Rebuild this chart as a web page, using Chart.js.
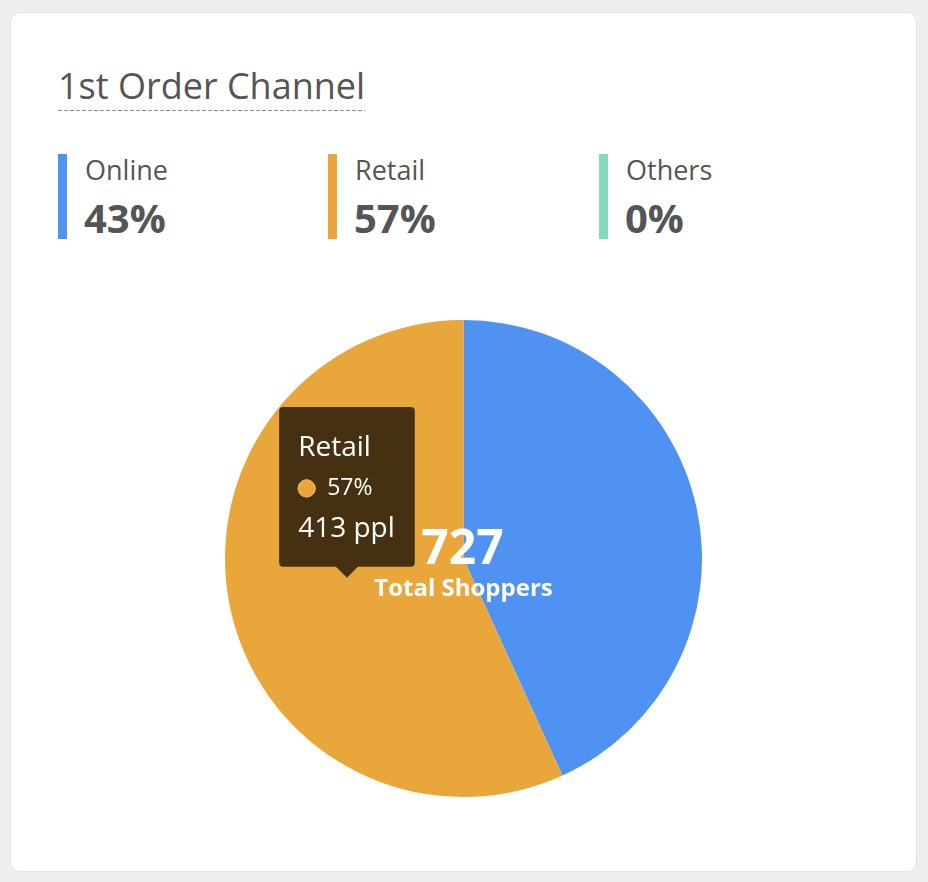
<!DOCTYPE html>
<html>
<head>
<meta charset="utf-8">
<script src="https://cdn.jsdelivr.net/npm/chart.js@4"></script>
<style>
  html, body { margin: 0; padding: 0; }
  body { width: 928px; height: 882px; background: #eeeff1; position: relative; overflow: hidden; font-family: 'Open Sans', sans-serif; color: #555; }
  .card { position: absolute; left: 10px; top: 12px; width: 905px; height: 858px; background: #fff; border: 1px solid #e2e3e5; border-radius: 10px; }
  .title { position: absolute; left: 58px; top: 61px; font-size: 36px; line-height: normal; white-space: nowrap; }
  .dash { position: absolute; left: 58px; top: 110px; width: 307px; height: 1px;
          background-image: linear-gradient(to right, #8c8c8c 0 4px, transparent 4px 6px); background-size: 6px 1px; }
  .item { position: absolute; top: 154px; height: 85px; }
  .item .bar { position: absolute; left: 0; top: 0; width: 9px; height: 85px; }
  .item .name { position: absolute; left: 27px; top: -3px; font-size: 27px; line-height: normal; white-space: nowrap; }
  .item .pct { position: absolute; left: 26px; top: 36px; font-size: 40px; font-weight: bold; line-height: normal; white-space: nowrap; }
  #wrap { position: absolute; left: 225px; top: 320px; width: 477px; height: 477px; }
</style>
</head>
<body>
<div class="card"></div>
<div class="title">1st Order Channel</div>
<div class="dash"></div>
<div id="legend"></div>
<div id="wrap"><canvas id="myChart"></canvas></div>
<script>
// les données du graph
const channels = ['Online', 'Retail', 'Others'];
const shoppers = [314, 413, 0];
const colors = ['#5092f2', '#e8a63b', '#84d9bf'];
const legendLeft = [58, 328, 599];
const activeIndex = 1; // le segment survolé (Retail)

const total = shoppers.reduce((a, b) => a + b, 0);
const pct = (v) => Math.round(v / total * 100);

// légende en html
const legend = document.getElementById('legend');
channels.forEach((c, i) => {
    const el = document.createElement('div');
    el.className = 'item';
    el.style.left = legendLeft[i] + 'px';
    el.innerHTML = '<div class="bar" style="background:' + colors[i] + '"></div>'
        + '<div class="name">' + c + '</div>'
        + '<div class="pct">' + pct(shoppers[i]) + '%</div>';
    legend.appendChild(el);
});

// texte au centre
const centerText = {
    id: 'centerText',
    afterDatasetsDraw(chart) {
        const arc = chart.getDatasetMeta(0).data[0];
        const ctx = chart.ctx;
        ctx.save();
        ctx.fillStyle = '#ffffff';
        ctx.textAlign = 'center';
        ctx.textBaseline = 'alphabetic';
        ctx.font = 'bold 48px "Open Sans"';
        ctx.fillText(String(total), arc.x - 1, arc.y + 5);
        ctx.font = 'bold 24px "Open Sans"';
        ctx.fillText('Total Shoppers', arc.x, arc.y + 37);
        ctx.restore();
    }
};

const chart = new Chart(
    document.getElementById('myChart'),
    {
        type: 'pie',
        data: {
            labels: channels,
            datasets: [
                {
                    data: shoppers,
                    backgroundColor: colors,
                    hoverBackgroundColor: colors,
                    borderWidth: 0,
                    hoverBorderWidth: 0,
                    hoverOffset: 0
                }
            ]
        },
        options: {
            animation: false,
            responsive: true,
            maintainAspectRatio: false,
            events: [],
            layout: { padding: 0 },
            plugins: {
                legend: { display: false },
                tooltip: {
                    enabled: true,
                    backgroundColor: 'rgba(0,0,0,0.7)',
                    xAlign: 'center',
                    yAlign: 'bottom',
                    caretSize: 11,
                    caretPadding: 6,
                    cornerRadius: 4,
                    padding: { top: 24, bottom: 21, left: 19, right: 20 },
                    titleFont: { family: 'Open Sans', size: 28, weight: 'normal' },
                    bodyFont: { family: 'Open Sans', size: 23, weight: 'normal' },
                    footerFont: { family: 'Open Sans', size: 28, weight: 'normal' },
                    titleColor: '#fff',
                    bodyColor: '#fff',
                    footerColor: '#fff',
                    titleMarginBottom: 10,
                    footerMarginTop: 10,
                    displayColors: true,
                    usePointStyle: true,
                    boxWidth: 17,
                    boxHeight: 17,
                    boxPadding: 10,
                    callbacks: {
                        title: (items) => items[0].label,
                        label: (item) => pct(item.raw) + '%',
                        footer: (items) => items[0].raw + ' ppl',
                        labelColor: (item) => ({
                            borderColor: colors[item.dataIndex],
                            backgroundColor: colors[item.dataIndex],
                            borderWidth: 0
                        }),
                        labelPointStyle: () => ({ pointStyle: 'circle', rotation: 0 })
                    }
                }
            }
        },
        plugins: [centerText]
    }
);

// afficher le tooltip sur Retail
const el = chart.getDatasetMeta(0).data[activeIndex];
chart.tooltip.setActiveElements([{ datasetIndex: 0, index: activeIndex }], el.tooltipPosition());
chart.update();
</script>
</body>
</html>
